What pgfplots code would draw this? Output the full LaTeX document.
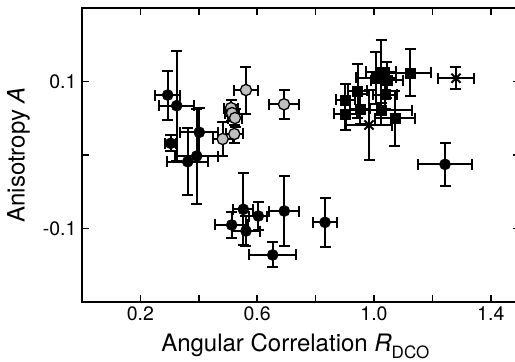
\documentclass[border=0pt]{standalone}
\usepackage{pgfplots}
\pgfplotsset{compat=1.18}
\usepackage{fontspec}
\setmainfont{TeX Gyre Heros}
\begin{document}
\begin{tikzpicture}
\useasboundingbox (-82pt,-60pt) rectangle (433pt,302pt);
\clip (-82pt,-60pt) rectangle (433pt,302pt);
\begin{axis}[
  at={(0pt,0pt)}, anchor=south west,
  scale only axis, width=438pt, height=294pt,
  xmin=0, xmax=1.5, ymin=-0.2, ymax=0.2,
  axis line style={line width=1.8pt},
  tick align=inside, major tick length=7pt, minor tick length=7pt,
  every tick/.style={black, line width=1.5pt},
  xtick={0.2,0.6,1.0,1.4}, xticklabels={0.2,0.6,1.0,1.4},
  minor xtick={0.4,0.8,1.2},
  ytick={-0.1,0.1}, yticklabels={{-0.1},{0.1}},
  minor ytick={0},
  ticklabel style={font=\fontsize{19.5}{19.5}\selectfont},
  xticklabel style={yshift=-1pt},
  yticklabel style={xshift=-2pt},
  xlabel={Angular Correlation \textit{R}\raisebox{-7pt}{\fontsize{17}{17}\selectfont DCO}},
  ylabel={Anisotropy \textit{A}},
  label style={font=\fontsize{24}{24}\selectfont},
  xlabel style={at={(axis description cs:0.487,-0.168)}, anchor=base},
  ylabel style={at={(axis description cs:-0.145,0.5)}, anchor=center},
  error bars/error bar style={line width=2pt, black},
  error bars/error mark options={rotate=90, mark size=5.5pt, line width=2pt, black},
]
% black circles
\addplot[only marks, mark=*, mark size=5.6pt, mark options={fill=black, draw=black},
  error bars/.cd, x dir=both, x explicit, y dir=both, y explicit]
  table[x=x, y=y, x error=ex, y error=ey] {
x y ex ey
0.2935 0.0816 0.043 0.0333
0.3243 0.0671 0.060 0.0748
0.3038 0.0159 0.019 0.0109
0.3620 -0.0091 0.070 0.0456
0.3928 -0.0014 0.074 0.0646
0.4017 0.0309 0.065 0.0327
0.5127 -0.0952 0.056 0.018
0.5524 -0.0739 0.034 0.049
0.5616 -0.1034 0.048 0.020
0.6038 -0.0830 0.031 0.019
0.6928 -0.0762 0.051 0.048
0.8322 -0.0916 0.040 0.033
0.6531 -0.1360 0.080 0.017
1.2432 -0.0127 0.091 0.029
};
% grey circles
\addplot[only marks, mark=*, mark size=5.6pt, mark options={fill=black!25, draw=black, line width=1.3pt},
  error bars/.cd, x dir=both, x explicit, y dir=both, y explicit]
  table[x=x, y=y, x error=ex, y error=ey] {
x y ex ey
0.4818 0.0218 0.034 0.023
0.5216 0.0286 0.030 0.012
0.5103 0.0639 0.024 0.011
0.5137 0.0571 0.024 0.011
0.5240 0.0503 0.024 0.012
0.5616 0.0884 0.041 0.032
0.6918 0.0690 0.050 0.020
};
% black squares
\addplot[only marks, mark=square*, mark size=5pt, mark options={fill=black, draw=black},
  error bars/.cd, x dir=both, x explicit, y dir=both, y explicit]
  table[x=x, y=y, x error=ex, y error=ey] {
x y ex ey
0.9024 0.0752 0.031 0.022
0.9024 0.0558 0.039 0.022
0.9435 0.0873 0.034 0.037
0.9521 0.0626 0.034 0.020
1.0068 0.1048 0.068 0.035
1.0240 0.1133 0.051 0.043
1.0435 0.1020 0.055 0.024
1.0377 0.0823 0.041 0.020
1.0240 0.0612 0.106 0.020
1.0719 0.0499 0.068 0.037
1.1233 0.1116 0.072 0.032
};
% crosses
\addplot[only marks, mark=x, mark size=6.5pt, mark options={draw=black, line width=2pt},
  error bars/.cd, x dir=both, x explicit, y dir=both, y explicit]
  table[x=x, y=y, x error=ex, y error=ey] {
x y ex ey
1.2808 0.1044 0.060 0.015
0.9829 0.0408 0.079 0.048
};
\end{axis}
\end{tikzpicture}
\end{document}
